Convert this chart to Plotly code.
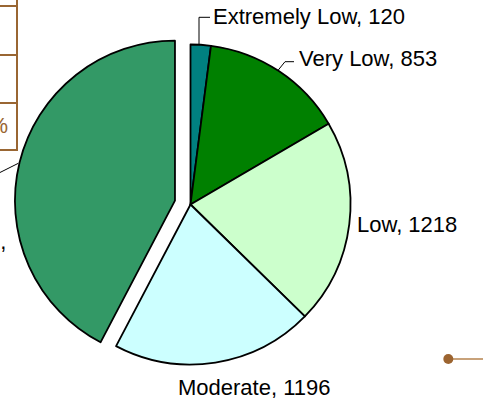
import plotly.graph_objects as go

# ---- data ----
categories = ["Extremely Low", "Very Low", "Low", "Moderate", "High"]
counts = [120, 853, 1218, 1196, 2483]
slice_colors = ["#008080", "#008000", "#CCFFCC", "#CCFFFF", "#339966"]
pulls = [0, 0, 0, 0, 0.1]

W, H = 483, 400


def px(x):
    return x / W


def py(y):
    return 1 - y / H


fig = go.Figure(
    go.Pie(
        labels=categories,
        values=counts,
        sort=False,
        direction="clockwise",
        rotation=0,
        pull=pulls,
        textinfo="none",
        hoverinfo="label+value",
        marker=dict(colors=slice_colors, line=dict(color="black", width=1.8)),
        domain=dict(x=[0.030, 0.7588], y=[0.04875, 0.92875]),
        showlegend=False,
    )
)

font = dict(family="Liberation Sans, Arial, sans-serif", size=22, color="black")
ann = []
label_pos = {
    "Extremely Low": (213, 16, "left"),
    "Very Low": (299, 58, "left"),
    "Low": (357, 224, "left"),
    "Moderate": (178, 387, "left"),
}
for cat, val in zip(categories, counts):
    if cat in label_pos:
        x, y, anc = label_pos[cat]
        ann.append(dict(x=px(x), y=py(y), xref="paper", yref="paper", text=f"{cat}, {val}",
                        showarrow=False, xanchor=anc, yanchor="middle", font=font,
                        borderpad=0, borderwidth=0))
# High label sits mostly outside the visible canvas
ann.append(dict(x=px(5.5), y=py(241), xref="paper", yref="paper", text="High,",
                showarrow=False, xanchor="right", yanchor="middle", font=font,
                borderpad=0, borderwidth=0))
# table fragment text
ann.append(dict(x=px(8), y=py(126), xref="paper", yref="paper", text="12%",
                showarrow=False, xanchor="right", yanchor="middle",
                font=dict(family="Liberation Sans, Arial, sans-serif", size=22, color="#996633"),
                borderpad=0, borderwidth=0))

brown = "#996633"
shapes = []
# table fragment at top-left
shapes.append(dict(type="line", xref="paper", yref="paper", x0=px(17), x1=px(17), y0=py(-5), y1=py(151),
                   line=dict(color=brown, width=2)))
for yy in [6, 55, 103, 150]:
    shapes.append(dict(type="line", xref="paper", yref="paper", x0=px(-60), x1=px(17), y0=py(yy), y1=py(yy),
                       line=dict(color=brown, width=2)))


def path(points):
    return "M " + " L ".join(f"{px(x)},{py(y)}" for x, y in points)


# leader lines
shapes.append(dict(type="path", xref="paper", yref="paper", path=path([(199, 45), (199, 17.3), (210, 17.3)]),
                   line=dict(color="black", width=1)))
shapes.append(dict(type="path", xref="paper", yref="paper", path=path([(278.3, 70), (285, 61.7), (294, 61.7)]),
                   line=dict(color="black", width=1)))
shapes.append(dict(type="line", xref="paper", yref="paper", x0=px(18.3), y0=py(163.3), x1=px(-3), y1=py(174),
                   line=dict(color="black", width=1)))

# bottom-right decoration
shapes.append(dict(type="line", xref="paper", yref="paper", x0=px(448), x1=px(495), y0=py(359), y1=py(359),
                   line=dict(color="#C8A27A", width=2)))
shapes.append(dict(type="circle", xref="paper", yref="paper", x0=px(443.3), x1=px(453.3), y0=py(354), y1=py(364),
                   fillcolor="#9C6430", line=dict(color="#9C6430", width=0)))

fig.update_layout(
    width=W, height=H,
    margin=dict(l=0, r=0, t=0, b=0),
    paper_bgcolor="white", plot_bgcolor="white",
    annotations=ann, shapes=shapes,
)

fig.write_html("out.html", config={"displayModeBar": False},
               post_script="document.body.style.margin='0';")
